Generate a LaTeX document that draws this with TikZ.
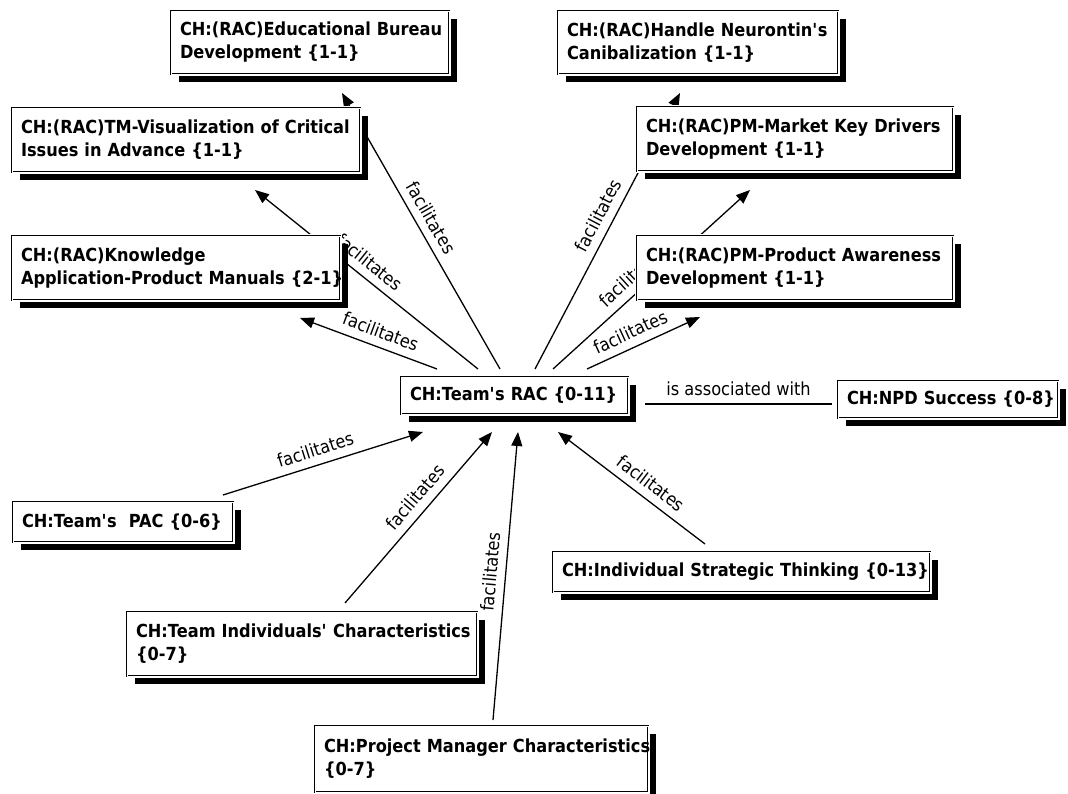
\documentclass[tikz,border=0pt]{standalone}
\usepackage{fontspec}
\setmainfont{DejaVu Sans}[FakeStretch=0.9]
\usetikzlibrary{arrows.meta,shadows,calc}
\pgfdeclarelayer{bg}
\pgfsetlayers{bg,main}

\tikzset{
  code/.style={draw=black, line width=0.6pt, double=white, double distance=0.7pt,
    fill=white, align=left, anchor=north west, outer sep=0pt,
    general shadow={fill=black, shadow xshift=8pt, shadow yshift=-8pt},
    preaction={draw=white, line width=4pt},
    inner xsep=9pt, inner ysep=0pt,
    font=\bfseries\fontsize{18}{23}\selectfont},
  rel/.style={line width=1.3pt, -{Triangle[length=14pt,width=11pt]}},
  assoc/.style={line width=1.3pt},
  lbl/.style={sloped, above, inner sep=8pt, font=\fontsize{18}{22}\selectfont}
}
\newcommand\aps{\textquotesingle}

\begin{document}
\begin{tikzpicture}[x=1pt, y=-1pt]
\useasboundingbox (0,0) rectangle (1068,794);
\begin{pgfonlayer}{bg}
  \fill[white] (0,0) rectangle (1068,794);
\end{pgfonlayer}

% code boxes
\node[code, text width=260pt, minimum height=63pt] (edu) at (171,11)
  {\mbox{CH:(RAC)Educational Bureau}\\\mbox{Development \{1-1\}}};
\node[code, text width=262pt, minimum height=63pt] (hnc) at (558,11)
  {\mbox{CH:(RAC)Handle Neurontin\aps s}\\\mbox{Canibalization \{1-1\}}};
\node[code, text width=330pt, minimum height=64pt] (tmv) at (12,108)
  {\mbox{CH:(RAC)TM-Visualization of Critical}\\\mbox{Issues in Advance \{1-1\}}};
\node[code, text width=298pt, minimum height=64pt] (pmk) at (637,107)
  {\mbox{CH:(RAC)PM-Market Key Drivers}\\\mbox{Development \{1-1\}}};
\node[code, text width=310pt, minimum height=64pt] (kap) at (12,236)
  {\mbox{CH:(RAC)Knowledge}\\\mbox{Application-Product Manuals \{2-1\}}};
\node[code, text width=298pt, minimum height=64pt] (ppa) at (637,236)
  {\mbox{CH:(RAC)PM-Product Awareness}\\\mbox{Development \{1-1\}}};
\node[code, text width=209pt, minimum height=37pt] (rac) at (401,377)
  {\mbox{CH:Team\aps s RAC \{0-11\}}};
\node[code, text width=202pt, minimum height=37pt] (npd) at (838,381)
  {\mbox{CH:NPD Success \{0-8\}}};
\node[code, text width=202pt, minimum height=40pt] (pac) at (13,502)
  {\mbox{CH:Team\aps s\ \ PAC \{0-6\}}};
\node[code, text width=359pt, minimum height=40pt] (ist) at (553,552)
  {\mbox{CH:Individual Strategic Thinking \{0-13\}}};
\node[code, text width=332pt, minimum height=64pt] (tic) at (127,612)
  {\mbox{CH:Team Individuals\aps\ Characteristics}\\\mbox{\{0-7\}}};
\node[code, text width=315pt, minimum height=66pt] (pmc) at (315,726)
  {\mbox{CH:Project Manager Characteristics}\\\mbox{\{0-7\}}};

% relations
\begin{pgfonlayer}{bg}
  \draw[rel] ($(rac.north west)+(99,-8)$) -- node[lbl, pos=.52]{facilitates} ($(edu.south west)+(171,19)$);
  \draw[rel] ($(rac.north west)+(77,-8)$) -- node[lbl, pos=.53]{facilitates} ($(tmv.south west)+(243,18)$);
  \draw[rel] ($(rac.north west)+(36,-8)$) -- node[lbl, pos=.45]{facilitates} ($(kap.south west)+(288,18)$);
  \draw[rel] ($(rac.north west)+(134,-8)$) -- node[lbl, pos=.53]{facilitates} ($(hnc.south west)+(122,19)$);
  \draw[rel] ($(rac.north west)+(152,-8)$) -- node[lbl, pos=.45]{facilitates} ($(pmk.south west)+(113,19)$);
  \draw[rel] ($(rac.north west)+(186,-8)$) -- node[lbl, pos=.44]{facilitates} ($(ppa.south west)+(63,17)$);
  \draw[assoc] ($(rac.north east)+(17,27)$) -- node[lbl, pos=.5]{is associated with} ($(npd.north west)+(-6,23)$);
  \draw[rel] ($(pac.north west)+(210,-7)$) -- node[lbl, pos=.485]{facilitates} ($(rac.south west)+(22,18)$);
  \draw[rel] ($(tic.north west)+(218,-9)$) -- node[lbl, pos=.56]{facilitates} ($(rac.south west)+(91,18)$);
  \draw[rel] ($(pmc.north west)+(178,-6)$) -- node[lbl, pos=.51]{facilitates} ($(rac.south west)+(117,18)$);
  \draw[rel] ($(ist.north west)+(152,-8)$) -- node[lbl, pos=.43]{facilitates} ($(rac.south west)+(157,18)$);
\end{pgfonlayer}
\end{tikzpicture}
\end{document}
